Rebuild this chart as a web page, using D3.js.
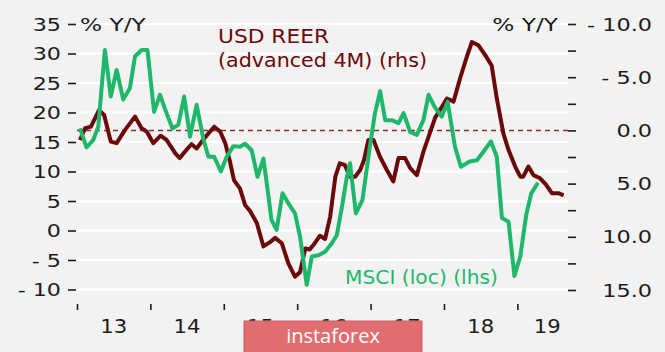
<!DOCTYPE html>
<html>
<head>
<meta charset="utf-8">
<script src="https://cdn.jsdelivr.net/npm/d3@7"></script>
<style>
  html, body { margin: 0; padding: 0; background: #f2f2f2; }
  svg { display: block; font-family: "DejaVu Sans", sans-serif; }
</style>
</head>
<body>
<div id="chart"></div>
<script>
(function(){

// MSCI (loc), % y/y, left axis
const msciDates = [2013.04, 2013.13, 2013.22, 2013.29, 2013.38, 2013.46, 2013.54, 2013.63, 2013.72, 2013.79,
  2013.88, 2013.96, 2014.05, 2014.13, 2014.22, 2014.30, 2014.38, 2014.46, 2014.54, 2014.63,
  2014.72, 2014.79, 2014.87, 2014.96, 2015.04, 2015.13, 2015.22, 2015.29, 2015.38, 2015.46,
  2015.54, 2015.61, 2015.65, 2015.72, 2015.80, 2015.88, 2015.97, 2016.04, 2016.13, 2016.20,
  2016.29, 2016.38, 2016.47, 2016.54, 2016.61, 2016.67, 2016.72, 2016.80, 2016.89, 2016.99,
  2017.06, 2017.13, 2017.20, 2017.29, 2017.38, 2017.45, 2017.54, 2017.63, 2017.72, 2017.79,
  2017.87, 2017.97, 2018.05, 2018.15, 2018.23, 2018.35, 2018.45, 2018.54, 2018.64, 2018.72,
  2018.79, 2018.88, 2018.96, 2019.04, 2019.12, 2019.19, 2019.28];
const msciValues = [17.3, 14.1, 15.3, 17.6, 30.6, 22.7, 27.2, 22.2, 24.1, 29.5,
  30.6, 30.6, 20.1, 23.0, 19.9, 17.3, 17.9, 22.7, 15.9, 21.3,
  15.6, 12.5, 12.5, 10.0, 12.5, 14.3, 14.2, 14.7, 13.6, 9.1,
  12.2, 5.7, 1.8, 0.1, 6.3, 4.6, 2.9, -1.1, -9.2, -4.4,
  -4.2, -3.6, -2.2, -0.8, 4.0, 8.6, 11.4, 2.9, 5.2, 14.2,
  19.9, 23.6, 18.7, 18.7, 18.2, 19.9, 16.7, 16.2, 18.7, 23.0,
  21.0, 19.3, 21.8, 14.2, 10.8, 11.7, 11.9, 13.4, 15.1, 12.5,
  2.1, 1.5, -7.7, -4.4, 2.6, 6.3, 8.1];

// USD REER advanced 4M, % y/y, right axis (inverted)
const reerDates = [2013.04, 2013.11, 2013.19, 2013.30, 2013.37, 2013.46, 2013.54, 2013.65, 2013.79, 2013.88,
  2013.95, 2014.04, 2014.14, 2014.22, 2014.34, 2014.40, 2014.47, 2014.56, 2014.63, 2014.70,
  2014.79, 2014.87, 2014.95, 2015.02, 2015.08, 2015.14, 2015.22, 2015.29, 2015.36, 2015.45,
  2015.54, 2015.63, 2015.70, 2015.79, 2015.88, 2015.97, 2016.04, 2016.11, 2016.17, 2016.24,
  2016.31, 2016.38, 2016.45, 2016.52, 2016.58, 2016.65, 2016.72, 2016.79, 2016.86, 2016.91,
  2016.97, 2017.04, 2017.13, 2017.22, 2017.31, 2017.38, 2017.47, 2017.54, 2017.63, 2017.72,
  2017.79, 2017.88, 2017.97, 2018.04, 2018.13, 2018.22, 2018.31, 2018.38, 2018.47, 2018.56,
  2018.65, 2018.72, 2018.81, 2018.88, 2018.97, 2019.04, 2019.08, 2019.15, 2019.22, 2019.31,
  2019.39, 2019.47, 2019.56, 2019.63];
const reerValues = [0.9, -0.2, -0.35, -1.9, -1.45, 1.05, 1.2, 0.0, -1.3, -0.2,
  0.1, 1.2, 0.5, 0.9, 2.15, 2.6, 2.0, 1.3, 1.7, 1.05,
  0.3, -0.35, 0.1, 1.2, 2.8, 4.7, 5.45, 7.0, 7.6, 8.7,
  10.9, 10.5, 10.1, 10.6, 12.5, 13.75, 13.3, 11.1, 11.2, 10.6,
  9.9, 10.2, 8.1, 4.35, 3.1, 3.25, 4.35, 4.35, 3.7, 2.8,
  0.9, 0.9, 2.5, 3.7, 4.8, 2.6, 2.6, 3.55, 4.2, 2.0,
  0.6, -1.2, -2.2, -3.0, -2.7, -4.9, -6.9, -8.3, -8.0, -7.1,
  -6.1, -3.0, 0.3, 1.85, 3.4, 4.35, 4.35, 3.4, 4.2, 4.5,
  5.1, 5.9, 5.9, 6.1];

const yearTicks = [2013, 2014, 2015, 2016, 2017, 2018, 2019];
const yearLabels = ["13", "14", "15", "16", "17", "18", "19"];
const leftTicks = [35, 30, 25, 20, 15, 10, 5, 0, -5, -10];
const rightTicks = [-10, -7.5, -5, -2.5, 0, 2.5, 5, 7.5, 10, 12.5, 15];
const rightLabelled = [-10, -5, 0, 5, 10, 15];

const width = 665, height = 352;
const plot = { left: 77, right: 568, top: 24, bottom: 289.5 };
const green = "#1fb86a", maroon = "#6b0808", ink = "#1c1c1c";

const svg = d3.select("#chart").append("svg")
  .attr("width", width)
  .attr("height", height);

svg.append("rect").attr("width", width).attr("height", height).attr("fill", "#f2f2f2");

const x = d3.scaleLinear().domain([2013, 2019.69]).range([plot.left, plot.right]);
const yL = d3.scaleLinear().domain([-10, 35]).range([plot.bottom, plot.top]);
const yR = d3.scaleLinear().domain([-10, 15]).range([plot.top, plot.bottom + 0.5]);

// gridlines
svg.append("g").selectAll("line")
  .data(leftTicks)
  .enter().append("line")
  .attr("x1", plot.left).attr("x2", plot.right)
  .attr("y1", d => yL(d)).attr("y2", d => yL(d))
  .attr("stroke", "#ffffff")
  .attr("stroke-width", 2);

// left axis
const leftAxis = svg.append("g").attr("transform", `translate(${plot.left - 1},0)`)
  .call(d3.axisLeft(yL).tickValues(leftTicks).tickSize(8).tickPadding(0).tickFormat(() => ""));
leftAxis.select(".domain").remove();
leftAxis.selectAll(".tick line").attr("stroke", ink).attr("stroke-width", 1.6);

svg.append("g").selectAll("text")
  .data(leftTicks)
  .enter().append("g")
  .attr("transform", d => `translate(61,${yL(d) + 6.5}) scale(1.27,1)`)
  .append("text")
  .attr("text-anchor", "end")
  .attr("font-size", 17.5)
  .attr("fill", ink)
  .text(d => d < 0 ? "- " + Math.abs(d) : d);

// right axis
const rightAxis = svg.append("g").attr("transform", `translate(${plot.right},0)`)
  .call(d3.axisRight(yR).tickValues(rightTicks).tickSize(8).tickFormat(() => ""));
rightAxis.select(".domain").remove();
rightAxis.selectAll(".tick line").attr("stroke", ink).attr("stroke-width", 1.6);

svg.append("g").selectAll("text")
  .data(rightLabelled)
  .enter().append("g")
  .attr("transform", d => `translate(652,${yR(d) + 6.5}) scale(1.28,1)`)
  .append("text")
  .attr("text-anchor", "end")
  .attr("font-size", 17.5)
  .attr("fill", ink)
  .text(d => d < 0 ? "- " + d3.format(".1f")(Math.abs(d)) : d3.format(".1f")(d));

// axis titles
[[80, "start"], [558, "end"]].forEach(([tx, anchor]) => {
  svg.append("g")
    .attr("transform", `translate(${tx},31) scale(1.33,1)`)
    .append("text")
    .attr("text-anchor", anchor)
    .attr("font-size", 17.5)
    .attr("fill", ink)
    .text("% Y/Y");
});

// x axis
const xAxis = svg.append("g").attr("transform", "translate(0,304)")
  .call(d3.axisBottom(x).tickValues(yearTicks).tickSize(6).tickFormat(() => ""));
xAxis.select(".domain").remove();
xAxis.selectAll(".tick line").attr("stroke", ink).attr("stroke-width", 1.6);

svg.append("g").selectAll("text")
  .data(yearTicks)
  .enter().append("g")
  .attr("transform", d => {
    const cx = (x(d) + Math.min(x(d + 1), plot.right + 9)) / 2;
    return `translate(${cx},333) scale(1.06,1)`;
  })
  .append("text")
  .attr("text-anchor", "middle")
  .attr("font-size", 20)
  .attr("fill", ink)
  .text((d, i) => yearLabels[i]);

// zero line of the right axis
svg.append("line")
  .attr("x1", plot.left).attr("x2", plot.right)
  .attr("y1", yR(0)).attr("y2", yR(0))
  .attr("stroke", "#8a2e2e")
  .attr("stroke-width", 1.5)
  .attr("stroke-dasharray", "5,4");

// series
const reerLine = d3.line().x(d => x(d[0])).y(d => yR(d[1]));
const msciLine = d3.line().x(d => x(d[0])).y(d => yL(d[1]));

svg.append("path")
  .datum(d3.zip(reerDates, reerValues))
  .attr("d", reerLine)
  .attr("fill", "none")
  .attr("stroke", maroon)
  .attr("stroke-width", 4)
  .attr("stroke-linejoin", "round");

svg.append("path")
  .datum(d3.zip(msciDates, msciValues))
  .attr("d", msciLine)
  .attr("fill", "none")
  .attr("stroke", green)
  .attr("stroke-width", 4)
  .attr("stroke-linejoin", "round");

// labels
svg.append("text")
  .attr("x", 218).attr("y", 43)
  .attr("font-size", 20)
  .attr("fill", maroon)
  .attr("textLength", 111).attr("lengthAdjust", "spacingAndGlyphs")
  .text("USD REER");
svg.append("text")
  .attr("x", 218).attr("y", 67)
  .attr("font-size", 20)
  .attr("fill", maroon)
  .attr("textLength", 209).attr("lengthAdjust", "spacingAndGlyphs")
  .text("(advanced 4M) (rhs)");
svg.append("text")
  .attr("x", 345).attr("y", 284)
  .attr("font-size", 20)
  .attr("fill", green)
  .attr("textLength", 153).attr("lengthAdjust", "spacingAndGlyphs")
  .text("MSCI (loc) (lhs)");

// watermark
svg.append("rect")
  .attr("x", 244).attr("y", 321)
  .attr("width", 178).attr("height", 33)
  .attr("fill", "#e26d70")
  .attr("stroke", "#cf5a5d")
  .attr("stroke-width", 1);
svg.append("text")
  .attr("x", 333).attr("y", 343)
  .attr("text-anchor", "middle")
  .attr("font-family", "'Open Sans', sans-serif")
  .attr("font-size", 20)
  .attr("fill", "#ffffff")
  .text("instaforex");

})();
</script>
</body>
</html>
